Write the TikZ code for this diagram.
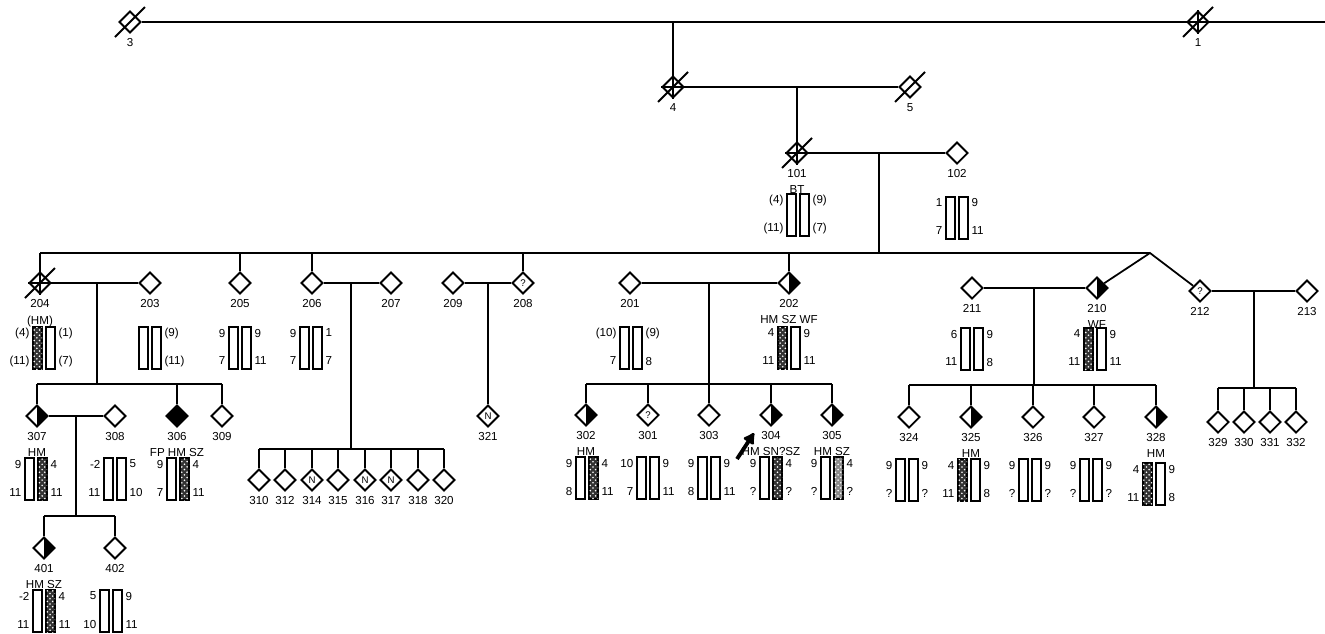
\documentclass[tikz,border=0pt]{standalone}
\usepackage{fontspec}
\setmainfont{Liberation Sans}
\usetikzlibrary{arrows.meta,shapes.geometric,patterns,positioning}

\begin{document}
\begin{tikzpicture}[x=0.02cm, y=-0.02cm, line width=1pt,
	every node/.style={font=\fontsize{6.6}{8}\selectfont, inner sep=1pt},
	every label/.style={font=\fontsize{6.6}{8}\selectfont, inner sep=1pt},
	person/.style={diamond, draw, line width=1.1pt, aspect=1, minimum size=0.44cm, inner sep=0pt, font=\fontsize{5.5}{5.5}\selectfont},
	unaff/.style={},
	halfaff/.style={path picture={\fill (path picture bounding box.north) rectangle (path picture bounding box.south east);}},
	fullaff/.style={fill=black},
	hap/.style={draw, line width=0.7pt, fill=white},
	haphm/.style={hap, fill=black!80, postaction={pattern=crosshatch dots, pattern color=white}},
	haplight/.style={hap, fill=black!45, postaction={pattern=crosshatch dots, pattern color=white}},
	>={Latex[length=2mm]}]
	\useasboundingbox (0,0) rectangle (1325,633);

	% individuals
	\foreach \n/\x/\y/\s/\t in {3/130/22/unaff/, 1/1198/22/unaff/, 4/673/87/unaff/, 5/910/87/unaff/,
		101/797/153/unaff/, 102/957/153/unaff/,
		204/40/283/unaff/, 203/150/283/unaff/, 205/240/283/unaff/, 206/312/283/unaff/, 207/391/283/unaff/,
		209/453/283/unaff/, 208/523/283/unaff/?, 201/630/283/unaff/, 202/789/283/halfaff/,
		211/972/288/unaff/, 210/1097/288/halfaff/, 212/1200/291/unaff/?, 213/1307/291/unaff/,
		307/37/416/halfaff/, 308/115/416/unaff/, 306/177/416/fullaff/, 309/222/416/unaff/,
		310/259/480/unaff/, 312/285/480/unaff/, 314/312/480/unaff/N, 315/338/480/unaff/,
		316/365/480/unaff/N, 317/391/480/unaff/N, 318/418/480/unaff/, 320/444/480/unaff/,
		321/488/416/unaff/N,
		302/586/415/halfaff/, 301/648/415/unaff/?, 303/709/415/unaff/, 304/771/415/halfaff/, 305/832/415/halfaff/,
		324/909/417/unaff/, 325/971/417/halfaff/, 326/1033/417/unaff/, 327/1094/417/unaff/, 328/1156/417/halfaff/,
		329/1218/422/unaff/, 330/1244/422/unaff/, 331/1270/422/unaff/, 332/1296/422/unaff/,
		401/44/548/halfaff/, 402/115/548/unaff/}
		\node[person, \s, label={[name=l\n, label distance=1.3pt]below:\n}] (p\n) at (\x,\y) {\t};

	% deceased
	\foreach \n in {3,1,4,5,101,204}
		\draw[line width=1.1pt] ([shift={(-15,15)}]p\n.center) -- ([shift={(15,-15)}]p\n.center);
	\foreach \n in {1,4,101,204}
		\draw[line width=0.7pt] (p\n.north) -- (p\n.south) (p\n.west) -- (p\n.east);

	% phenotype notes
	\foreach \n/\a in {101/BT, 204/(HM), 202/HM SZ WF, 210/WF, 307/HM, 306/FP HM SZ,
		302/HM, 304/HM SN?SZ, 305/HM SZ, 325/HM, 328/HM, 401/HM SZ}
		\node[below=1.3pt of l\n] (a\n) {\a};

	% haplotype bars
	\foreach \p/\x/\y/\fl/\fr/\tl/\bl/\tr/\br in {101/787/194/hap/hap/(4)/(11)/(9)/(7),
		102/946/197/hap/hap/1/7/9/11,
		204/33/327/haphm/hap/(4)/(11)/(1)/(7), 203/139/327/hap/hap///(9)/(11),
		205/229/327/hap/hap/9/7/9/11, 206/300/327/hap/hap/9/7/1/7,
		201/620/327/hap/hap/(10)/7/(9)/8, 202/778/327/haphm/hap/4/11/9/11,
		211/961/328/hap/hap/6/11/9/8, 210/1084/328/haphm/hap/4/11/9/11,
		307/25/458/hap/haphm/9/11/4/11, 308/104/458/hap/hap/-2/11/5/10, 306/167/458/hap/haphm/9/7/4/11,
		302/576/457/hap/haphm/9/8/4/11, 301/637/457/hap/hap/10/7/9/11, 303/698/457/hap/hap/9/8/9/11,
		304/760/457/hap/haphm/9/?/4/?, 305/821/457/hap/haplight/9/?/4/?,
		324/896/459/hap/hap/9/?/9/?, 325/958/459/haphm/hap/4/11/9/8, 326/1019/459/hap/hap/9/?/9/?,
		327/1080/459/hap/hap/9/?/9/?, 328/1143/463/haphm/hap/4/11/9/8,
		401/33/590/hap/haphm/-2/11/4/11, 402/100/590/hap/hap/5/10/9/11} {
		\draw[\fl] (\x,\y) rectangle ++(9,42);
		\draw[\fr] (\x+13,\y) rectangle ++(9,42);
		\node[anchor=east] (h\p-tl) at (\x-1,\y+6) {\tl};
		\node[anchor=east] (h\p-bl) at (\x-1,\y+34) {\bl};
		\node[anchor=west] (h\p-tr) at (\x+23,\y+6) {\tr};
		\node[anchor=west] (h\p-br) at (\x+23,\y+34) {\br};
	}

	% generations I and II
	\coordinate (rim) at (1325,22);
	\draw (p3) -- (p1) -- (rim);
	\draw (p4) -- (p4 |- p3);
	\draw (p4) -- (p5);
	\draw (p101) -- (p101 |- p4);
	\draw (p101) -- (p102);
	\coordinate (u101) at (879,153);
	\coordinate (s101) at (879,253);
	\coordinate (fork) at (1150,253);
	\draw (u101) -- (s101);
	\draw (p204 |- s101) -- (fork);
	\foreach \n in {204,205,206,208,202}
		\draw (p\n) -- (p\n |- s101);
	\draw (p210) -- (fork) -- (p212);

	% sibships of generation III
	\draw (p204) -- (p203);
	\coordinate (u204) at (97,283);
	\coordinate (s204) at (97,384);
	\draw (u204) -- (s204);
	\draw (p307 |- s204) -- (p309 |- s204);
	\foreach \n in {307,306,309}
		\draw (p\n) -- (p\n |- s204);

	\draw (p307) -- (p308);
	\coordinate (u307) at (76,416);
	\coordinate (s307) at (76,516);
	\draw (u307) -- (s307);
	\draw (p401 |- s307) -- (p402 |- s307);
	\foreach \n in {401,402}
		\draw (p\n) -- (p\n |- s307);

	\draw (p206) -- (p207);
	\coordinate (u206) at (351,283);
	\coordinate (s206) at (351,449);
	\draw (u206) -- (s206);
	\draw (p310 |- s206) -- (p320 |- s206);
	\foreach \n in {310,312,314,315,316,317,318,320}
		\draw (p\n) -- (p\n |- s206);

	\draw (p209) -- (p208);
	\draw (p321) -- (p321 |- p209);

	\draw (p201) -- (p202);
	\coordinate (u201) at (709,283);
	\coordinate (s201) at (709,384);
	\draw (u201) -- (s201);
	\draw (p302 |- s201) -- (p305 |- s201);
	\foreach \n in {302,301,303,304,305}
		\draw (p\n) -- (p\n |- s201);

	\draw (p211) -- (p210);
	\coordinate (u211) at (1034,288);
	\coordinate (s211) at (1034,385);
	\draw (u211) -- (s211);
	\draw (p324 |- s211) -- (p328 |- s211);
	\foreach \n in {324,325,326,327,328}
		\draw (p\n) -- (p\n |- s211);

	\draw (p212) -- (p213);
	\coordinate (u212) at (1254,291);
	\coordinate (s212) at (1254,388);
	\draw (u212) -- (s212);
	\draw (p329 |- s212) -- (p332 |- s212);
	\foreach \n in {329,330,331,332}
		\draw (p\n) -- (p\n |- s212);

	% proband
	\coordinate (prtail) at (737,459);
	\coordinate (prtip) at (754,433);
	\draw[-{Latex[round, length=2.6mm, width=3mm]}, line width=2.2pt] (prtail) -- (prtip);
\end{tikzpicture}
\end{document}
